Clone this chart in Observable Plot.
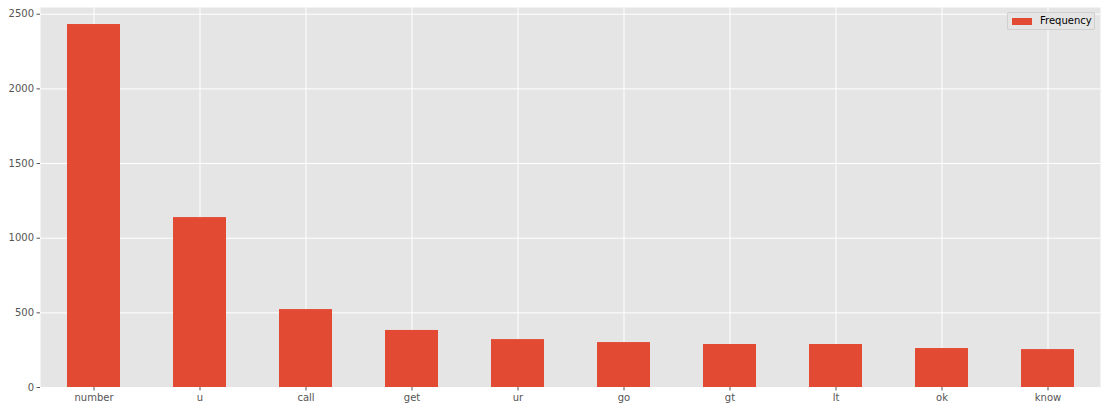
<!DOCTYPE html>
<html>
<head>
<meta charset="utf-8">
<script src="https://cdn.jsdelivr.net/npm/d3@7"></script>
<script src="https://cdn.jsdelivr.net/npm/@observablehq/plot@0.6"></script>
<style>
  html, body { margin: 0; padding: 0; background: #fff; }
  #wrap { position: relative; width: 1106px; height: 411px; font-family: "DejaVu Sans", sans-serif; }
  #legend { position: absolute; left: 1007px; top: 12px; width: 86px; height: 16px;
    background: #E5E5E5; border: 1px solid #cfcfcf; border-radius: 2px; box-sizing: content-box; }
  #legend .sw { position: absolute; left: 4px; top: 5px; width: 20px; height: 7px; background: #E24A33; }
  #legend .lb { position: absolute; left: 32px; top: 1px; font-size: 10px; color: #000; line-height: 14px; }
</style>
</head>
<body>
<div id="wrap">
  <div id="chart"></div>
  <div id="legend"><div class="sw"></div><div class="lb">Frequency</div></div>
</div>
<script>
const words = ["number", "u", "call", "get", "ur", "go", "gt", "lt", "ok", "know"];
const frequency = [2431, 1138, 522, 382, 321, 301, 288, 288, 261, 254];
const yTicks = [0, 500, 1000, 1500, 2000, 2500];
const seriesName = "Frequency";

const data = words.map((w, i) => ({word: w, value: frequency[i]}));

const chart = Plot.plot({
  width: 1106,
  height: 411,
  marginLeft: 40,
  marginRight: 6,
  marginTop: 7,
  marginBottom: 24,
  style: {fontFamily: "DejaVu Sans, sans-serif", fontSize: "10px", color: "#555", background: "#fff"},
  x: {domain: words, paddingInner: 0.5, paddingOuter: 0.25, align: 0.5, label: null},
  y: {domain: [0, 2545], ticks: yTicks, label: null},
  marks: [
    Plot.frame({fill: "#E5E5E5", stroke: null}),
    Plot.gridY(yTicks, {stroke: "#fff", strokeOpacity: 1, strokeWidth: 1}),
    Plot.gridX(words, {stroke: "#fff", strokeOpacity: 1, strokeWidth: 1}),
    Plot.barY(data, {x: "word", y: "value", fill: "#E24A33"}),
    Plot.axisX({tickSize: 3.5, tickPadding: 3, stroke: "#555", fill: "#555", label: null}),
    Plot.axisY(yTicks, {tickSize: 3.5, tickPadding: 3, stroke: "#555", fill: "#555", label: null, tickFormat: d => String(d)})
  ]
});
document.getElementById("chart").appendChild(chart);
</script>
</body>
</html>
